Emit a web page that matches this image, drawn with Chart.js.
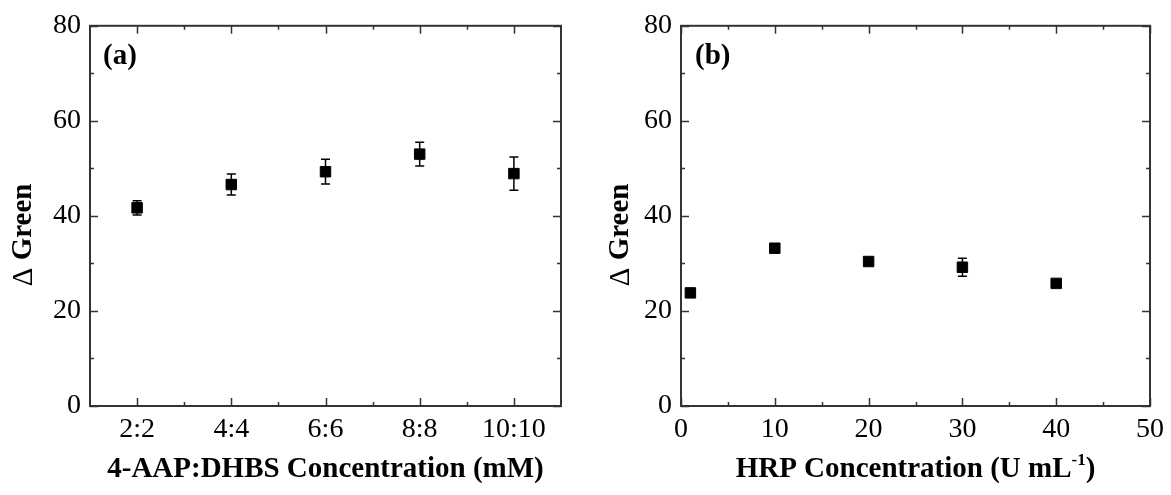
<!DOCTYPE html>
<html>
<head>
<meta charset="utf-8">
<script src="https://cdn.jsdelivr.net/npm/chart.js@4.4.1/dist/chart.umd.min.js"></script>
<style>
  html, body { margin: 0; padding: 0; background: #fff; }
  #wrap { position: relative; width: 1171px; height: 495px; background: #fff; }
  canvas { position: absolute; top: 0; }
</style>
</head>
<body>
<div id="wrap">
  <canvas id="ca" width="585" height="495" style="left:0px"></canvas>
  <canvas id="cb" width="586" height="495" style="left:585px"></canvas>
</div>
<script>
// ---- Data ----
const categoriesA = ['2:2', '4:4', '6:6', '8:8', '10:10'];
const valuesA = [41.7, 46.6, 49.3, 53.0, 48.9];
const errorsA = [1.5, 2.2, 2.6, 2.5, 3.5];

const hrpX = [1, 10, 20, 30, 40];
const valuesB = [23.8, 33.2, 30.4, 29.2, 25.8];
const errorsB = [0.8, 0.6, 0.5, 1.9, 0.6];

const yTicks = [0, 20, 40, 60, 80];
const xTicksB = [0, 10, 20, 30, 40, 50];

const yTitleParts = ['\u0394', ' Green'];
const xTitleA = '4-AAP:DHBS Concentration (mM)';
const xTitleB = ['HRP Concentration (U mL', '-1', ')'];
const panelA = '(a)';
const panelB = '(b)';

const SERIF = '"Liberation Serif", "Times New Roman", serif';
const FRAME = '#333333';
const TICK_SIZE = 28;
const TITLE_SIZE = 29;

// ---- Plugins ----
function frameTicksPlugin(xMajor, xMinor) {
  return {
    id: 'frameTicks',
    afterDraw(chart) {
      const ctx = chart.ctx;
      const a = chart.chartArea;
      const xs = chart.scales.x, ys = chart.scales.y;
      ctx.save();
      ctx.strokeStyle = FRAME;
      ctx.lineWidth = 2;
      ctx.strokeRect(a.left, a.top, a.right - a.left, a.bottom - a.top);
      ctx.lineWidth = 1.5;
      ctx.beginPath();
      const drawX = (v, len) => {
        const px = Math.round(xs.getPixelForValue(v)) + 0.5;
        ctx.moveTo(px, a.bottom); ctx.lineTo(px, a.bottom - len);
        ctx.moveTo(px, a.top); ctx.lineTo(px, a.top + len);
      };
      const drawY = (v, len) => {
        const py = Math.round(ys.getPixelForValue(v)) + 0.5;
        ctx.moveTo(a.left, py); ctx.lineTo(a.left + len, py);
        ctx.moveTo(a.right, py); ctx.lineTo(a.right - len, py);
      };
      xMajor.forEach(v => drawX(v, 8));
      xMinor.forEach(v => drawX(v, 4));
      for (let v = ys.min; v <= ys.max; v += 10) {
        drawY(v, (v % 20 === 0) ? 8 : 4);
      }
      ctx.stroke();
      ctx.restore();
    }
  };
}

const errorBarPlugin = {
  id: 'errorBars',
  beforeDatasetsDraw(chart) {
    const ctx = chart.ctx;
    const xs = chart.scales.x, ys = chart.scales.y;
    const ds = chart.data.datasets[0];
    const errs = ds.errors;
    ctx.save();
    ctx.strokeStyle = '#000';
    ctx.lineWidth = 1.5;
    ds.data.forEach((d, i) => {
      const xv = (typeof d === 'object') ? d.x : i;
      const yv = (typeof d === 'object') ? d.y : d;
      const px = xs.getPixelForValue(xv);
      const top = ys.getPixelForValue(yv + errs[i]);
      const bot = ys.getPixelForValue(yv - errs[i]);
      ctx.beginPath();
      ctx.moveTo(px, top); ctx.lineTo(px, bot);
      ctx.moveTo(px - 4.5, top); ctx.lineTo(px + 4.5, top);
      ctx.moveTo(px - 4.5, bot); ctx.lineTo(px + 4.5, bot);
      ctx.stroke();
    });
    ctx.restore();
  }
};

function textPlugin(panelText, panelX, yTitleX, xTitleParts) {
  return {
    id: 'texts',
    afterDraw(chart) {
      const ctx = chart.ctx;
      const a = chart.chartArea;
      const boldF = 'bold ' + TITLE_SIZE + 'px ' + SERIF;
      const normF = TITLE_SIZE + 'px ' + SERIF;
      ctx.save();
      ctx.fillStyle = '#000';
      ctx.font = boldF;
      // panel label
      ctx.textAlign = 'left';
      ctx.textBaseline = 'alphabetic';
      ctx.fillText(panelText, panelX, 64);
      // y title (rotated), delta in regular weight
      ctx.save();
      ctx.translate(yTitleX, (a.top + a.bottom) / 2 + 19);
      ctx.rotate(-Math.PI / 2);
      ctx.textBaseline = 'middle';
      ctx.textAlign = 'left';
      ctx.font = normF;
      const wd = ctx.measureText(yTitleParts[0]).width;
      ctx.font = boldF;
      const wg = ctx.measureText(yTitleParts[1]).width;
      let sx = -(wd + wg) / 2;
      ctx.font = normF;
      ctx.fillText(yTitleParts[0], sx, 0);
      ctx.font = boldF;
      ctx.fillText(yTitleParts[1], sx + wd, 0);
      ctx.restore();
      // x title
      const cx = (a.left + a.right) / 2;
      const baseY = 477;
      ctx.textBaseline = 'alphabetic';
      if (typeof xTitleParts === 'string') {
        ctx.textAlign = 'center';
        ctx.font = boldF;
        ctx.fillText(xTitleParts, cx, baseY);
      } else {
        const supFont = 'bold 17px ' + SERIF;
        ctx.font = boldF;
        const w0 = ctx.measureText(xTitleParts[0]).width;
        const w2 = ctx.measureText(xTitleParts[2]).width;
        ctx.font = supFont;
        const w1 = ctx.measureText(xTitleParts[1]).width;
        const total = w0 + w1 + w2;
        let x = cx - total / 2;
        ctx.textAlign = 'left';
        ctx.font = boldF;
        ctx.fillText(xTitleParts[0], x, baseY); x += w0;
        ctx.font = supFont;
        ctx.fillText(xTitleParts[1], x, baseY - 12); x += w1;
        ctx.font = boldF;
        ctx.fillText(xTitleParts[2], x, baseY);
      }
      ctx.restore();
    }
  };
}

function yScale(width) {
  return {
    type: 'linear', min: 0, max: 80,
    afterFit(s) { s.width = width; },
    afterBuildTicks(s) { s.ticks = yTicks.map(v => ({ value: v })); },
    grid: { display: false, drawTicks: false },
    border: { display: false },
    ticks: { color: '#000', font: { family: SERIF, size: TICK_SIZE }, padding: 9 }
  };
}

const pointStyle = {
  pointStyle: 'rect', pointRadius: 7.4, pointHoverRadius: 7.4,
  backgroundColor: '#000', borderColor: '#000', borderWidth: 1, showLine: false
};

// ---- Chart (a) ----
new Chart(document.getElementById('ca'), {
  type: 'line',
  data: {
    labels: categoriesA,
    datasets: [Object.assign({ data: valuesA, errors: errorsA }, pointStyle)]
  },
  options: {
    responsive: false, animation: false, devicePixelRatio: 1,
    layout: { padding: { left: 0, right: 24, top: 25, bottom: 0 } },
    plugins: { legend: { display: false }, tooltip: { enabled: false } },
    scales: {
      x: {
        type: 'category', offset: true,
        afterFit(s) { s.height = 89; },
        grid: { display: false, drawTicks: false, offset: true },
        border: { display: false },
        ticks: { color: '#000', font: { family: SERIF, size: TICK_SIZE }, padding: 7, maxRotation: 0, autoSkip: false }
      },
      y: yScale(90)
    }
  },
  plugins: [errorBarPlugin, frameTicksPlugin([0, 1, 2, 3, 4], [0.5, 1.5, 2.5, 3.5]),
            textPlugin(panelA, 103, 24, xTitleA)]
});

// ---- Chart (b) ----
new Chart(document.getElementById('cb'), {
  type: 'scatter',
  data: {
    datasets: [Object.assign({ data: hrpX.map((x, i) => ({ x, y: valuesB[i] })), errors: errorsB }, pointStyle)]
  },
  options: {
    responsive: false, animation: false, devicePixelRatio: 1,
    layout: { padding: { left: 0, right: 19, top: 25, bottom: 0 } },
    plugins: { legend: { display: false }, tooltip: { enabled: false } },
    scales: {
      x: {
        type: 'linear', min: 0, max: 50,
        afterFit(s) { s.height = 89; },
        afterBuildTicks(s) { s.ticks = xTicksB.map(v => ({ value: v })); },
        grid: { display: false, drawTicks: false },
        border: { display: false },
        ticks: { color: '#000', font: { family: SERIF, size: TICK_SIZE }, padding: 7, maxRotation: 0 }
      },
      y: yScale(96)
    }
  },
  plugins: [errorBarPlugin, frameTicksPlugin([0, 10, 20, 30, 40, 50], [5, 15, 25, 35, 45]),
            textPlugin(panelB, 110, 36, xTitleB)]
});
</script>
</body>
</html>
